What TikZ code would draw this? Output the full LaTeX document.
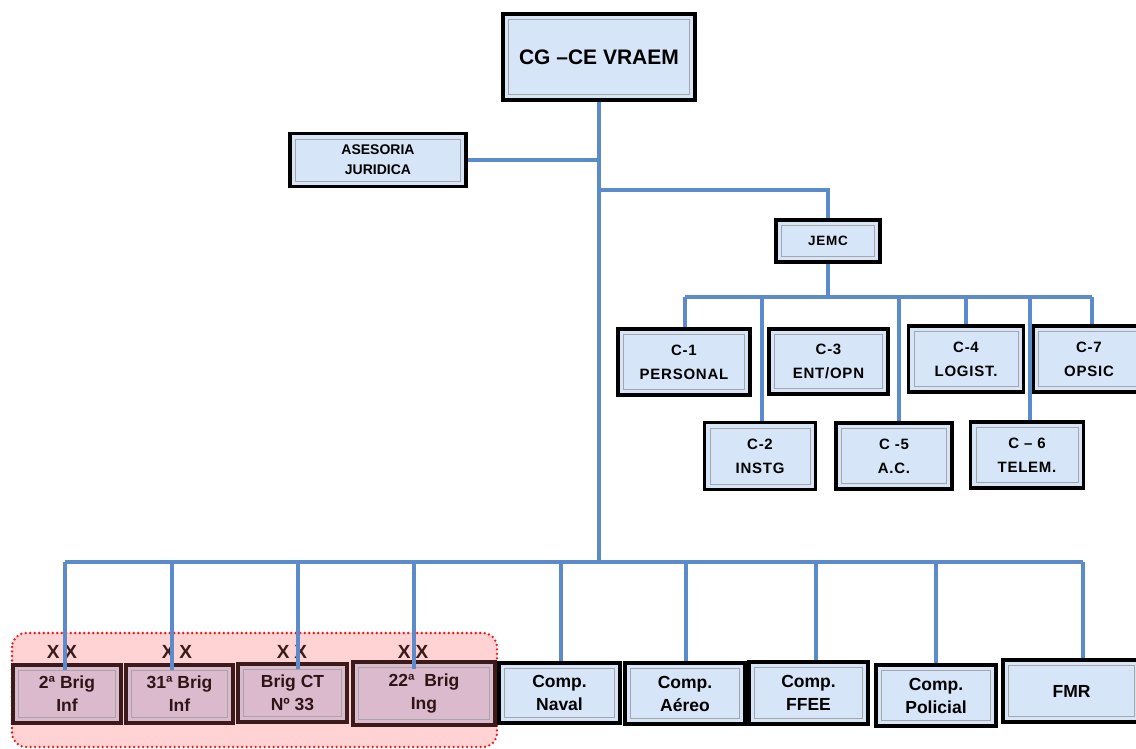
\documentclass[tikz,border=0pt]{standalone}
\usepackage{fontspec}
\setmainfont{Liberation Sans}
\newfontfamily\spacedfont[LetterSpace=5]{Liberation Sans}
\usetikzlibrary{positioning,calc}
\definecolor{orgblue}{HTML}{D6E6F8}
\definecolor{orgline}{HTML}{5B8BCB}
\definecolor{orgmauve}{HTML}{DCBACE}
\definecolor{orgbrown}{HTML}{3A1A1A}
\definecolor{orgpink}{HTML}{FFD3D3}
\definecolor{orgred}{HTML}{FF1010}

\begin{document}
\begin{tikzpicture}[
    x=1pt, y=-1pt,
    obox/.style={rectangle, draw=black, line width=3.2pt, fill=orgblue,
                 align=center, inner sep=0pt, font=\bfseries,
                 path picture={\draw[black!35, line width=0.9pt]
                   ([shift={(5.5pt,-5.5pt)}]path picture bounding box.north west) rectangle
                   ([shift={(-5.5pt,5.5pt)}]path picture bounding box.south east);}},
    cbox/.style={obox, font=\spacedfont\bfseries\fontsize{15}{24}\selectfont},
    ubox/.style={obox, font=\bfseries\fontsize{17.5}{23}\selectfont},
    bbox/.style={ubox, draw=orgbrown, fill=orgmauve, text=orgbrown!80!black},
    xxmark/.style={font=\bfseries\fontsize{19}{20}\selectfont, text=orgbrown},
    link/.style={draw=orgline, line width=3.2pt}
  ]

  \useasboundingbox (0,0) rectangle (1136,749);
  \clip (0,0) rectangle (1136,749);

  % ---- Brigade area ----
  \draw[orgred, fill=orgpink, line width=2.6pt, line cap=round,
        dash pattern=on 0pt off 4.5pt, rounded corners=14pt]
    (12,633) rectangle (497,747);

  % ---- Command ----
  \node[obox, minimum width=192pt, minimum height=86pt,
        font=\bfseries\fontsize{21}{25}\selectfont]
    (cg) at (599,57) {CG \textendash CE VRAEM};

  \node[obox, minimum width=176pt, minimum height=53pt,
        font=\bfseries\fontsize{14}{20}\selectfont]
    (ase) at (378,160) {ASESORIA\\JURIDICA};

  \node[cbox, minimum width=104pt, minimum height=42pt,
        font=\spacedfont\bfseries\fontsize{13.5}{16}\selectfont]
    (jemc) at (828,241) {JEMC};

  % ---- Staff sections ----
  \node[cbox, minimum width=132pt, minimum height=66pt] (c1) at (684,362)   {C-1\\PERSONAL};
  \node[cbox, minimum width=119pt, minimum height=65pt] (c3) at (828.5,361.5) {C-3\\ENT/OPN};
  \node[cbox, minimum width=115pt, minimum height=66pt] (c4) at (966,359)   {C-4\\LOGIST.};
  \node[cbox, minimum width=112pt, minimum height=66pt] (c7) at (1089,359)  {C-7\\OPSIC};
  \node[cbox, minimum width=111pt, minimum height=67pt] (c2) at (760,456)   {C-2\\INSTG};
  \node[cbox, minimum width=116pt, minimum height=66pt] (c5) at (894,456)   {C -5\\A.C.};
  \node[cbox, minimum width=113pt, minimum height=66pt] (c6) at (1027,455)  {C \textendash{} 6\\TELEM.};

  % ---- Brigades ----
  \node[bbox, minimum width=108pt, minimum height=58pt] (b2)  at (67,694)    {2ª Brig\\Inf};
  \node[bbox, minimum width=107pt, minimum height=58pt] (b31) at (179.5,694) {31ª Brig\\Inf};
  \node[bbox, minimum width=109pt, minimum height=58pt] (bct) at (292.5,693) {Brig CT\\Nº 33};
  \node[bbox, minimum width=142pt, minimum height=63pt] (b22) at (424,693.5) {22ª~~Brig\\Ing};

  \node[xxmark] (xx1) at (62,652)  {X\hspace{5pt}X};
  \node[xxmark] (xx2) at (177,652) {X\hspace{5pt}X};
  \node[xxmark] (xx3) at (292,652) {X\hspace{5pt}X};
  \node[xxmark] (xx4) at (413,652) {X\hspace{5pt}X};

  % ---- Components ----
  \node[ubox, minimum width=121pt, minimum height=60pt] (naval) at (559.5,693)  {Comp.\\Naval};
  \node[ubox, minimum width=120pt, minimum height=61pt] (aereo) at (685,693.5)  {Comp.\\Aéreo};
  \node[ubox, minimum width=119pt, minimum height=62pt] (ffee)  at (808.5,693)  {Comp.\\FFEE};
  \node[ubox, minimum width=120pt, minimum height=61pt] (pol)   at (936,695.5)  {Comp.\\Policial};
  \node[ubox, minimum width=137pt, minimum height=62pt] (fmr)   at (1071.5,691) {FMR};

  % ---- Connectors ----
  \coordinate (topbus) at (599,190);
  \coordinate (cbus)   at (0,297);
  \coordinate (bbus)   at (0,562);

  \draw[link] (cg.south) -- (cg.south |- bbus);
  \draw[link] (ase.east) -- (ase.east -| cg.south);
  \draw[link] (cg.south |- topbus) -| (jemc.north);
  \draw[link] (jemc.south) -- (jemc.south |- cbus);

  \foreach \n/\dx in {c1/1, c2/2, c4/0, c5/5, c6/3, c7/3}
    \coordinate (d\n) at ([xshift=\dx pt]\n.north);
  \draw[link] (dc1 |- cbus) -- (dc7 |- cbus);
  \foreach \n in {c1, c2, c4, c5, c6, c7}
    \draw[link] (d\n |- cbus) -- (d\n);

  \foreach \n/\dx/\dy in {b2/-2/-7, b31/-7.5/-7, bct/5.5/-7, b22/-10/-9,
                          naval/1.5/0, aereo/1/0, ffee/7.5/0, pol/0/0, fmr/11.5/0}
    \coordinate (d\n) at ([shift={(\dx pt,\dy pt)}]\n.north);
  \draw[link] (db2 |- bbus) -- (dfmr |- bbus);
  \foreach \n in {b2, b31, bct, b22, naval, aereo, ffee, pol, fmr}
    \draw[link] (d\n |- bbus) -- (d\n);

\end{tikzpicture}
\end{document}
